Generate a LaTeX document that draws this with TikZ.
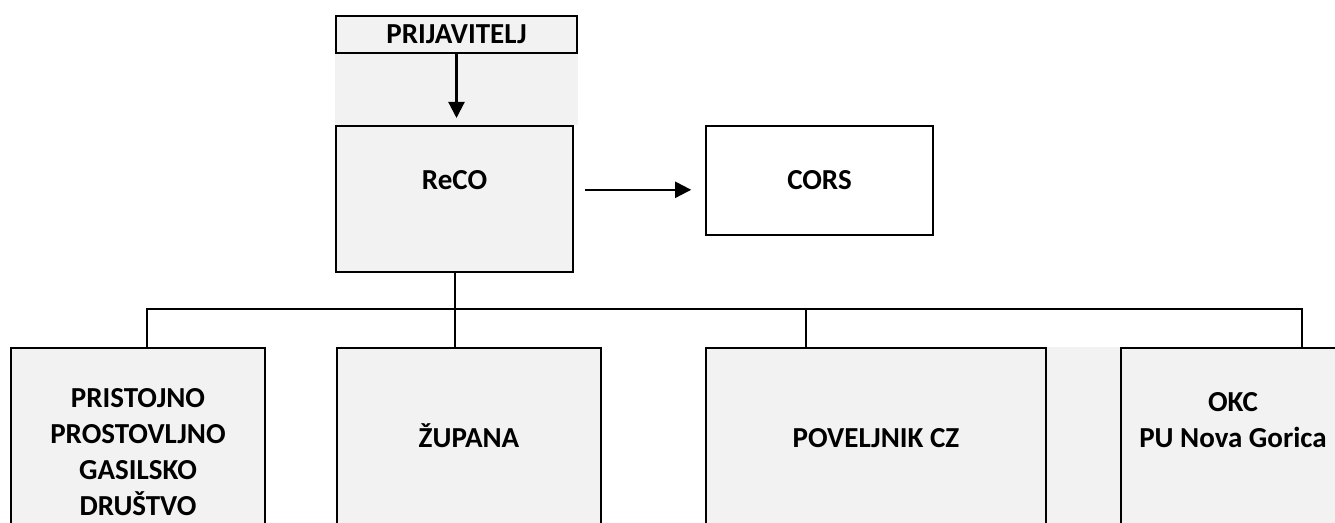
\documentclass[tikz,border=0pt]{standalone}
\usepackage{fontspec}
\setmainfont{Carlito}
\usetikzlibrary{arrows.meta,backgrounds}
\definecolor{boxgray}{HTML}{F2F2F2}

\begin{document}
\begin{tikzpicture}[x=0.5pt,y=-0.5pt,>={Triangle[length=8pt,width=8pt]},
    font=\bfseries\fontsize{14.5}{18}\selectfont,
    box/.style={rectangle,draw,line width=0.8pt,fill=boxgray,inner sep=0pt,align=center,anchor=north},
    low box/.style={box,minimum width=#1,text height=50pt,text depth=66.5pt},
    arr/.style={->,line width=1.1pt},
    link/.style={line width=1pt}]

  \useasboundingbox (0,0) rectangle (1335,523);
  \clip (0,0) rectangle (1335,523);

  % top row
  \node[box,minimum width=120.5pt,text height=14pt,text depth=4.5pt] (prij) at (456.5,15) {PRIJAVITELJ};
  \node[box,minimum width=118.5pt,text height=31.75pt,text depth=41.25pt] (reco) at (454.5,125) {ReCO};
  \node[box,fill=white,minimum width=113.5pt,text height=32pt,text depth=22.5pt] (cors) at (819.5,125) {CORS};

  % bottom row
  \node[low box=127pt,text height=84pt,text depth=32.5pt] (pgd) at (138,347) {PRISTOJNO\\PROSTOVLJNO\\GASILSKO\\DRUŠTVO};
  \node[low box=132pt] (zup) at (469,347) {ŽUPANA};
  \node[low box=170pt] (pov) at (876,347) {POVELJNIK CZ};
  \node[low box=112pt] (okc) at (1233,347) {OKC\\PU Nova Gorica};

  \begin{scope}[on background layer]
    \fill[boxgray] (prij.south west) rectangle (prij.south east |- reco.north);
    \fill[boxgray] (pov.north east) rectangle (okc.south west);
  \end{scope}

  % arrows
  \draw[arr,shorten >=3.5pt] (prij.south) -- (prij.south |- reco.north);
  \draw[arr,shorten <=5.5pt,shorten >=7pt] ([yshift=4.5pt]reco.east) -- ([yshift=4.5pt]reco.east -| cors.west);

  % tree
  \coordinate (busL) at (147,309);
  \coordinate (busM) at (806,309);
  \coordinate (busR) at (1302,309);
  \draw[link] (reco.south) -- (reco.south |- busL);
  \draw[link] (busL |- pgd.north) -- (busL) -- (busR) -- (busR |- okc.north);
  \draw[link] (reco.south |- busL) -- (reco.south |- zup.north);
  \draw[link] (busM) -- (busM |- pov.north);
\end{tikzpicture}
\end{document}
